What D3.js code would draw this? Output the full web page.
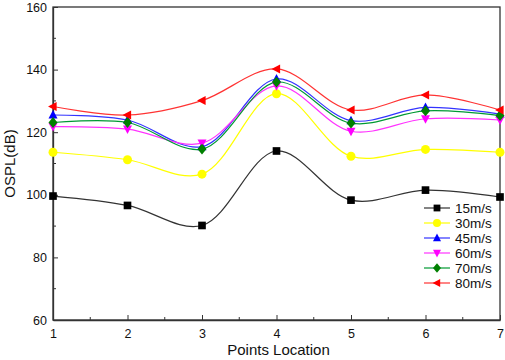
<!DOCTYPE html>
<html><head><meta charset="utf-8">
<script src="https://cdn.jsdelivr.net/npm/d3@7/dist/d3.min.js"></script>
<style>body{margin:0;background:#fff}svg{display:block}text{font-family:"Liberation Sans",Arial,sans-serif}</style>
</head><body>
<script>
const locations = [1,2,3,4,5,6,7];
const seriesNames = ["15m/s","30m/s","45m/s","60m/s","70m/s","80m/s"];
const s15 = [99.6, 96.6, 90.2, 114.0, 98.3, 101.5, 99.3];
const s30 = [113.6, 111.2, 106.6, 132.3, 112.3, 114.5, 113.6];
const s45 = [125.5, 123.9, 115.4, 137.0, 123.7, 127.9, 125.8];
const s60 = [121.8, 121.0, 116.5, 134.8, 120.3, 124.3, 123.9];
const s70 = [123.1, 123.1, 114.6, 136.0, 122.9, 126.8, 125.3];
const s80 = [128.2, 125.5, 130.1, 140.2, 127.1, 131.9, 127.1];
const yTicks = [60,80,100,120,140,160];
const xTicks = [1,2,3,4,5,6,7];
const colors = ["#000000","#ffff00","#0000ff","#ff00ff","#008000","#ff0000"];
const lineColors = ["#333333","#ffff00","#3333ff","#ff33ff","#009933","#ff3333"];
const symbols = ["square","circle","up","down","diamond","left"];
const allSeries = [s15,s30,s45,s60,s70,s80];

const W=505,H=360, L=53, R=500, T=7, B=320;
const svg=d3.select("body").append("svg").attr("width",W).attr("height",H);
const x=d3.scaleLinear().domain([1,7]).range([L,R]);
const y=d3.scaleLinear().domain([60,160]).range([B,T]);

svg.append("rect").attr("x",L).attr("y",T).attr("width",R-L).attr("height",B-T)
  .attr("fill","none").attr("stroke","#333").attr("stroke-width",1.3);

const xa=svg.append("g").attr("transform",`translate(0,${B})`)
  .call(d3.axisBottom(x).tickValues(xTicks).tickFormat(d3.format("d")).tickSizeInner(-5).tickSizeOuter(0).tickPadding(9));
const ya=svg.append("g").attr("transform",`translate(${L},0)`)
  .call(d3.axisLeft(y).tickValues(yTicks).tickSizeInner(-5).tickSizeOuter(0).tickPadding(6));
[xa,ya].forEach(g=>{g.select(".domain").attr("stroke","#333").attr("stroke-width",1.3);
  g.selectAll(".tick line").attr("stroke","#333");
  g.selectAll("text").attr("font-size",12.5).attr("fill","#111").attr("font-family","Liberation Sans, Arial, sans-serif");});
const xMinor=d3.range(1.5,7,1), yMinor=d3.range(70,160,20);
svg.append("g").selectAll("line").data(xMinor).join("line")
  .attr("x1",d=>x(d)).attr("x2",d=>x(d)).attr("y1",B).attr("y2",B-3).attr("stroke","#333");
svg.append("g").selectAll("line").data(yMinor).join("line")
  .attr("x1",L).attr("x2",L+3).attr("y1",d=>y(d)).attr("y2",d=>y(d)).attr("stroke","#333");

svg.append("text").attr("x",(L+R)/2+2).attr("y",355).attr("text-anchor","middle")
  .attr("font-size",15).attr("fill","#111").text("Points Location");
svg.append("text").attr("transform",`translate(15,${(T+B)/2}) rotate(-90)`).attr("text-anchor","middle")
  .attr("font-size",15).attr("fill","#111").text("OSPL(dB)");

function marker(g,type,cx,cy,fill,s){
  s=s||4.5;
  let p;
  if(type==="square") p=g.append("rect").attr("x",cx-s*0.85).attr("y",cy-s*0.85).attr("width",s*1.7).attr("height",s*1.7);
  else if(type==="circle") p=g.append("circle").attr("cx",cx).attr("cy",cy).attr("r",s);
  else {
    let pts;
    if(type==="up") pts=[[0,-s*1.1],[s,s*0.8],[-s,s*0.8]];
    else if(type==="down") pts=[[0,s*1.1],[s,-s*0.8],[-s,-s*0.8]];
    else if(type==="left") pts=[[-s*1.1,0],[s*0.8,-s],[s*0.8,s]];
    else pts=[[0,-s*1.2],[s,0],[0,s*1.2],[-s,0]];
    p=g.append("polygon").attr("points",pts.map(q=>[cx+q[0],cy+q[1]].join(",")).join(" "));
  }
  p.attr("fill",fill);
}

const line=d3.line().x((d,i)=>x(locations[i])).y(d=>y(d)).curve(d3.curveCatmullRom.alpha(0.5));
const plot=svg.append("g");
allSeries.forEach((s,k)=>{
  plot.append("path").attr("d",line(s)).attr("fill","none").attr("stroke",lineColors[k]).attr("stroke-width",1.2);
});
allSeries.forEach((s,k)=>{
  s.forEach((v,i)=>marker(plot,symbols[k],x(locations[i]),y(v),colors[k]));
});

const lg=svg.append("g");
seriesNames.forEach((n,k)=>{
  const yy=208+k*15;
  lg.append("line").attr("x1",424).attr("x2",450).attr("y1",yy).attr("y2",yy).attr("stroke",lineColors[k]).attr("stroke-width",1.2);
  marker(lg,symbols[k],437,yy,colors[k],4);
  lg.append("text").attr("x",455).attr("y",yy+5).attr("font-size",13.5).attr("fill","#111").text(n);
});
</script>
</body></html>
